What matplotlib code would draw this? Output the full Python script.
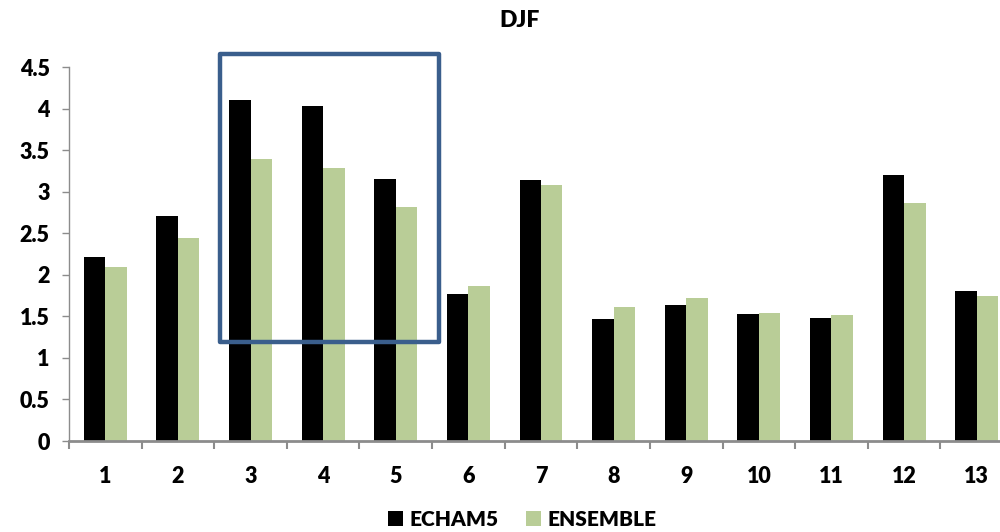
import matplotlib.pyplot as plt
import matplotlib.patches as mpatches
import numpy as np

plt.rcParams.update({
    'font.family': ['Lato', 'DejaVu Sans'],
    'font.weight': 'heavy',
    'font.size': 15.5,
})

# Valores DJF por región
regiones = ['1', '2', '3', '4', '5', '6', '7', '8', '9', '10', '11', '12', '13']
echam5 = [2.21, 2.71, 4.10, 4.03, 3.15, 1.77, 3.14, 1.47, 1.64, 1.53, 1.48, 3.20, 1.80]
ensemble = [2.09, 2.44, 3.39, 3.29, 2.82, 1.86, 3.08, 1.61, 1.72, 1.54, 1.52, 2.86, 1.75]
yticks = [0, 0.5, 1, 1.5, 2, 2.5, 3, 3.5, 4, 4.5]
ytick_labels = ['0', '0.5', '1', '1.5', '2', '2.5', '3', '3.5', '4', '4.5']

color_echam = '#000000'
color_ens = '#B9CD97'
color_eje = '#8C8C8C'
color_marco = '#3A5E8C'

fig = plt.figure(figsize=(10, 5.32), dpi=100)
ax = fig.add_axes([0.069, 0.171, 0.944, 0.703])

x = np.arange(1, len(regiones) + 1)
ancho = 0.296
ax.bar(x - ancho / 2, echam5, width=ancho, color=color_echam, label='ECHAM5')
ax.bar(x + ancho / 2, ensemble, width=ancho, color=color_ens, label='ENSEMBLE')

ax.set_xlim(0.5, len(regiones) + 0.5)
ax.set_ylim(0, 4.5)
ax.set_yticks(yticks)
ax.set_yticklabels(ytick_labels)
ax.set_xticks(x)
ax.set_xticklabels(regiones)
# marcas del eje x en los límites entre categorías
ax.set_xticks(np.arange(0.5, len(regiones) + 1, 1), minor=True)
ax.tick_params(axis='x', which='major', length=0, pad=18)
ax.tick_params(axis='x', which='minor', length=6, width=1.5, color=color_eje)
ax.tick_params(axis='y', length=5, width=1, color=color_eje, pad=9)

for lado in ['top', 'right']:
    ax.spines[lado].set_visible(False)
ax.spines['left'].set_color(color_eje)
ax.spines['left'].set_linewidth(1)
ax.spines['bottom'].set_color(color_eje)
ax.spines['bottom'].set_linewidth(2)

# Recuadro que resalta las regiones 3-5
marco = mpatches.Rectangle((2.58, 1.19), 3.02, 3.47, fill=False,
                           edgecolor=color_marco, linewidth=3.2,
                           joinstyle='round', clip_on=False, zorder=5)
ax.add_patch(marco)

fig.text(0.52, 0.962, 'DJF', ha='center', va='center', fontsize=16.5, fontweight='heavy')

fig.legend(loc='center', bbox_to_anchor=(0.522, 0.024), ncol=2, frameon=False,
           handlelength=0.75, handleheight=0.75, handletextpad=0.3, columnspacing=1.3,
           fontsize=15)

fig.savefig('out.png', dpi=100)
